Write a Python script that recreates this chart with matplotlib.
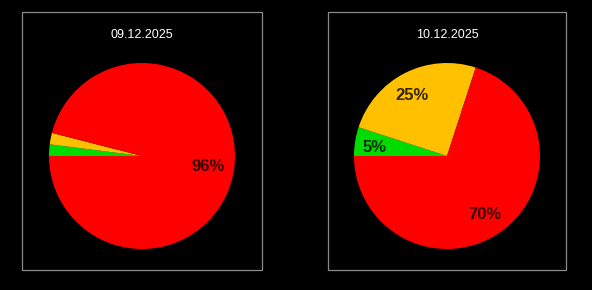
import matplotlib
matplotlib.use("Agg")
import matplotlib.pyplot as plt
from matplotlib.patches import Rectangle

plt.rcParams['font.family'] = ['Liberation Sans', 'DejaVu Sans']

# data
dates = ["09.12.2025", "10.12.2025"]
categories = ["green", "yellow", "red"]
values_day1 = [2, 2, 96]
values_day2 = [5, 25, 70]
colors = ["#00dc00", "#ffc000", "#ff0000"]

W, H = 592, 290
fig = plt.figure(figsize=(W / 100, H / 100), dpi=100, facecolor="black")


def pct_label(p):
    # tiny slices get no label
    return "%d%%" % round(p) if p >= 4 else ""


def draw_panel(box, cx, cy, r, title, vals):
    x0, y0, x1, y1 = box
    fig.patches.append(Rectangle((x0 / W, 1 - y1 / H), (x1 - x0) / W, (y1 - y0) / H,
                                 transform=fig.transFigure, fill=False,
                                 edgecolor="#8a8a8a", linewidth=0.9))
    fig.text(cx / W, 1 - 34.5 / H, title, color="white", fontsize=9,
             ha="center", va="center")
    ax = fig.add_axes([(cx - r) / W, 1 - (cy + r) / H, 2 * r / W, 2 * r / H])
    ax.set_facecolor("black")
    wedges, texts, autotexts = ax.pie(vals, colors=colors, startangle=180,
                                      counterclock=False, autopct=pct_label,
                                      pctdistance=0.75, radius=1,
                                      textprops=dict(color="black", alpha=0.8,
                                                     fontsize=12, fontweight="bold"))
    for t in autotexts:
        x, y = t.get_position()
        t.set_position((x - 3.5 / r, y - 2 / r))
    ax.set_xlim(-1, 1)
    ax.set_ylim(-1, 1)
    ax.axis("off")


draw_panel((22, 12, 262, 270), 142, 156, 93, dates[0], values_day1)
draw_panel((328, 12, 566, 270), 447, 156, 93, dates[1], values_day2)

fig.savefig("out.png", dpi=100, facecolor="black")
